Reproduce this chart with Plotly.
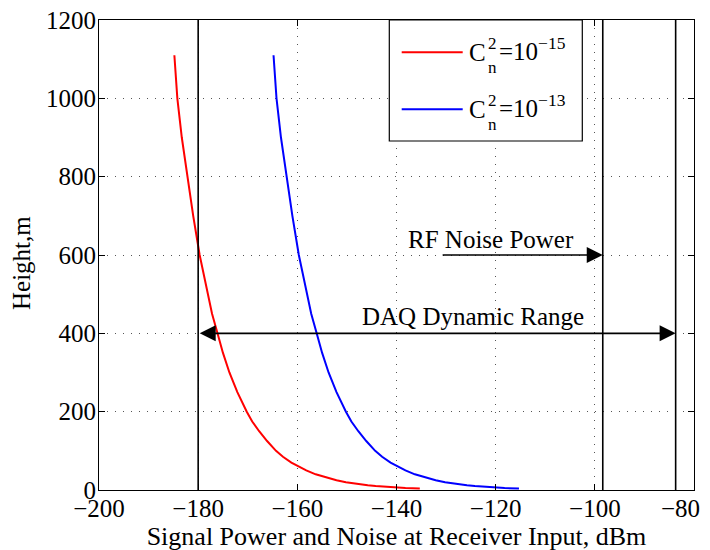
import plotly.graph_objects as go

# ---- data ----
heights = [1110, 1000, 900, 800, 700, 600, 500, 450, 400, 350, 300, 250, 200, 175, 150, 125, 100,
           85, 70, 60, 50, 40, 32, 25, 20, 16, 12, 10, 8, 6.5, 5, 3.8]
power_cn15 = [-184.8, -184.2, -183.3, -182.2, -181.0, -179.7, -178.1, -177.2, -176.1, -175.0, -173.7,
              -172.1, -170.2, -169.1, -167.7, -166.1, -164.3, -162.9, -161.2, -159.8, -158.2, -156.3,
              -154.3, -152.1, -150.2, -148.3, -145.8, -144.2, -142.3, -140.4, -138.2, -135.3]
power_cn13 = [-164.8, -164.2, -163.3, -162.2, -161.0, -159.7, -158.1, -157.2, -156.1, -155.0, -153.7,
              -152.1, -150.2, -149.1, -147.7, -146.1, -144.3, -142.9, -141.2, -139.8, -138.2, -136.3,
              -134.3, -132.1, -130.2, -128.3, -125.8, -124.2, -122.3, -120.4, -118.2, -115.3]

vlines_x = [-180, -98.4, -83.7]          # DAQ floor, RF noise power, DAQ ceiling
rf_arrow_start = -131.0
rf_arrow_y = 600
daq_arrow_y = 400

x_ticks = [-200, -180, -160, -140, -120, -100, -80]
x_ticklabels = ["−200", "−180", "−160", "−140", "−120", "−100", ""]   # last label drawn separately
last_x_label = "−80"
y_ticks = [0, 200, 400, 600, 800, 1000, 1200]

FONT = "Liberation Serif"
W, H = 710, 550
# page body adds an 8px offset; compensate so the plot area sits at x 99..694, y 20..490
OFF = 8
PL, PR, PT, PB = 99, 694, 20, 490
L, T = PL - OFF, PT - OFF
R, B = W - (PR - OFF), H - (PB - OFF)

fig = go.Figure()
fig.add_trace(go.Scatter(x=power_cn15, y=heights, mode="lines",
                         line=dict(color="#ff0000", width=2), showlegend=False))
fig.add_trace(go.Scatter(x=power_cn13, y=heights, mode="lines",
                         line=dict(color="#0000ff", width=2), showlegend=False))

shapes = []
for xv in vlines_x:
    shapes.append(dict(type="line", xref="x", yref="y", x0=xv, x1=xv, y0=0, y1=1200,
                       line=dict(color="black", width=1.6)))

def px(xp):
    return (xp - PL) / (PR - PL)
def py(yp):
    return (PB - yp) / (PB - PT)

shapes.append(dict(type="rect", xref="paper", yref="paper",
                   x0=px(389.3), x1=px(582.3), y0=py(141), y1=py(20),
                   line=dict(color="black", width=1.2), fillcolor="white", layer="above"))
for yy, col in [(52.3, "#ff0000"), (109.3, "#0000ff")]:
    shapes.append(dict(type="line", xref="paper", yref="paper",
                       x0=px(401.7), x1=px(462.7), y0=py(yy), y1=py(yy),
                       line=dict(color=col, width=2), layer="above"))

annotations = []
annotations.append(dict(x=vlines_x[1], y=rf_arrow_y, ax=rf_arrow_start, ay=rf_arrow_y,
                        xref="x", yref="y", axref="x", ayref="y", text="", showarrow=True,
                        arrowhead=2, arrowsize=2, arrowwidth=1.6, arrowcolor="black"))
annotations.append(dict(x=vlines_x[2], y=daq_arrow_y, ax=vlines_x[0], ay=daq_arrow_y,
                        xref="x", yref="y", axref="x", ayref="y", text="", showarrow=True,
                        arrowhead=2, startarrowhead=2, arrowside="end+start",
                        arrowsize=2, startarrowsize=2, arrowwidth=1.6, arrowcolor="black"))
annotations.append(dict(x=-121.0, y=640, xref="x", yref="y", text="RF Noise Power",
                        showarrow=False, font=dict(family=FONT, size=25, color="black")))
annotations.append(dict(x=-124.5, y=442, xref="x", yref="y", text="DAQ Dynamic Range",
                        showarrow=False, font=dict(family=FONT, size=25, color="black")))
# last x tick label, nudged left so it stays inside the figure (as in the reference)
annotations.append(dict(x=x_ticks[-1], y=0, xref="x", yref="y", text=last_x_label,
                        xanchor="right", yanchor="middle", xshift=8, yshift=-18, showarrow=False,
                        font=dict(family=FONT, size=25, color="black")))
# y-axis title
annotations.append(dict(x=px(21), y=py(263), xref="paper", yref="paper", text="Height,m",
                        textangle=-90, xanchor="center", yanchor="middle", showarrow=False,
                        font=dict(family=FONT, size=25, color="black")))

for base_y, exp in [(52.3, "−15"), (109.3, "−13")]:
    annotations.append(dict(x=px(467), y=py(base_y), xref="paper", yref="paper", text="C",
                            xanchor="left", yanchor="middle", showarrow=False,
                            font=dict(family=FONT, size=25, color="black")))
    annotations.append(dict(x=px(485.5), y=py(base_y - 8.5), xref="paper", yref="paper", text="2",
                            xanchor="left", yanchor="middle", showarrow=False,
                            font=dict(family=FONT, size=17, color="black")))
    annotations.append(dict(x=px(485.5), y=py(base_y + 15), xref="paper", yref="paper", text="n",
                            xanchor="left", yanchor="middle", showarrow=False,
                            font=dict(family=FONT, size=17, color="black")))
    annotations.append(dict(x=px(497), y=py(base_y - 3), xref="paper", yref="paper",
                            text="=10<sup>" + exp + "</sup>",
                            xanchor="left", yanchor="middle", showarrow=False,
                            font=dict(family=FONT, size=25, color="black")))

axis_common = dict(showline=True, linecolor="black", linewidth=1, mirror="ticks",
                   ticks="inside", ticklen=6, tickcolor="black", tickwidth=1,
                   showgrid=True, gridcolor="#555555", gridwidth=1, griddash="1px,7px",
                   zeroline=False, ticklabeloverflow="allow",
                   tickfont=dict(family=FONT, size=25, color="black"))

fig.update_layout(
    width=W, height=H, margin=dict(l=L, r=R, t=T, b=B),
    paper_bgcolor="white", plot_bgcolor="white",
    shapes=shapes, annotations=annotations, showlegend=False,
    xaxis=dict(range=[-200, -80], tickmode="array", tickvals=x_ticks, ticktext=x_ticklabels,
               ticklabelstandoff=-4,
               title=dict(text="Signal Power and Noise at Receiver Input, dBm",
                          font=dict(family=FONT, size=26, color="black"), standoff=0),
               **axis_common),
    yaxis=dict(range=[0, 1200], tickmode="array", tickvals=y_ticks, ticklabelstandoff=-3,
               **axis_common),
)
fig.update_xaxes(automargin=False)
fig.update_yaxes(automargin=False)

fig.write_html("out.html")
